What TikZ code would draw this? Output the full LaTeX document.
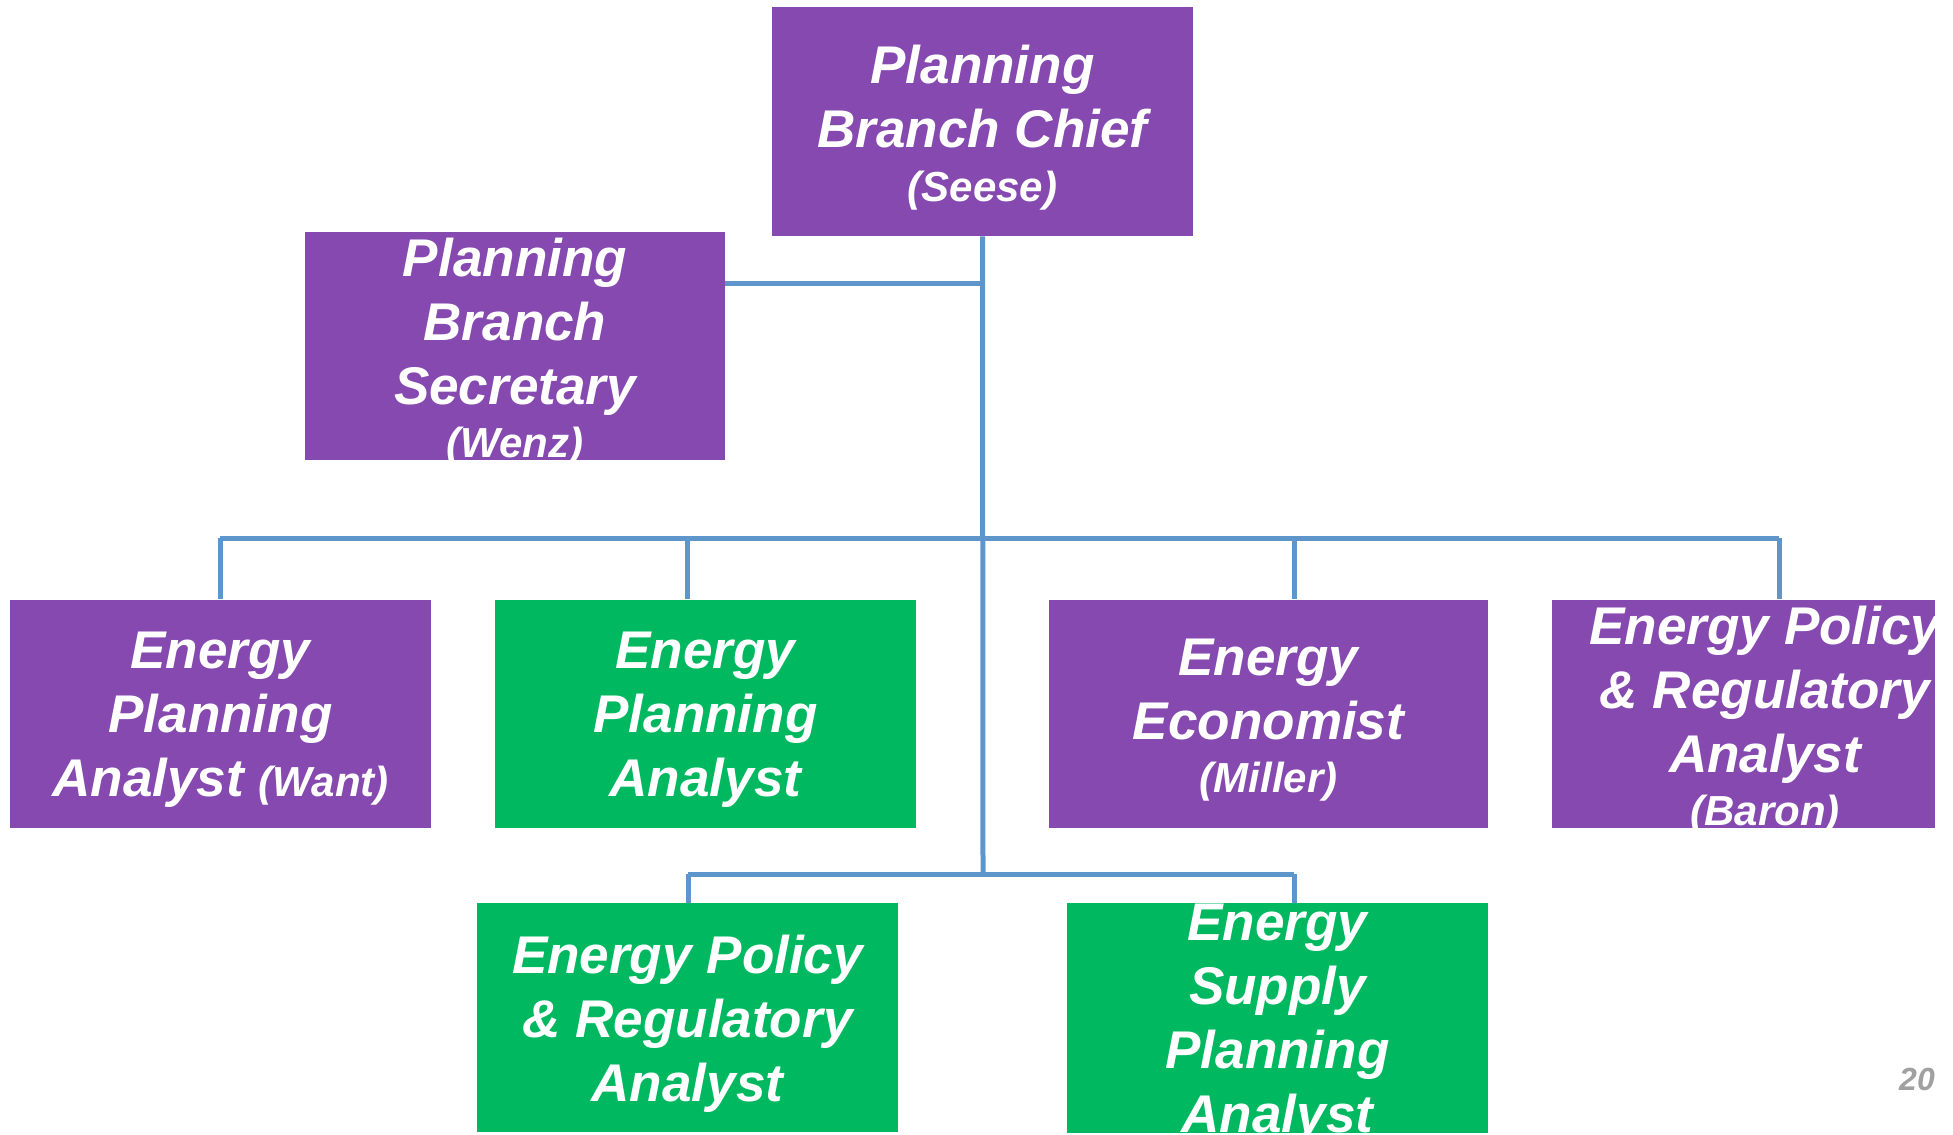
\documentclass[tikz,border=0pt]{standalone}
\usepackage{fontspec}
\setmainfont{Liberation Sans}
\usetikzlibrary{positioning}

\definecolor{orgpurple}{HTML}{8549B0}
\definecolor{orggreen}{HTML}{00B860}
\definecolor{orgline}{HTML}{5E96CC}
\definecolor{pagegray}{HTML}{A0A0A0}

\newcommand{\persname}[1]{{\fontsize{23.9}{30}\selectfont #1}}

\begin{document}
\begin{tikzpicture}[x=0.02cm, y=-0.02cm,
    box/.style = {rectangle, minimum width=8.42cm, minimum height=4.58cm, inner sep=0pt},
    staff/.style = {box, fill=orgpurple},
    vacant/.style = {box, fill=orggreen},
    boxtext/.style = {text=white, align=center, inner sep=0pt, yshift=-3.5pt, font=\bfseries\itshape\fontsize{30.2}{36.4}\selectfont},
    link/.style = {draw=orgline, line width=0.1cm},
    pagenum/.style = {text=pagegray, font=\bfseries\itshape\fontsize{18.2}{22}\selectfont}]
        \useasboundingbox (0,0) rectangle (1953,1135);

        % lines first, boxes on top
        \coordinate (sec-join) at (983,283);
        \coordinate (row-l) at (220,538);
        \coordinate (row-epa) at (687,538);
        \coordinate (row-mid) at (983,538);
        \coordinate (row-eco) at (1294,538);
        \coordinate (row-r) at (1779,538);
        \coordinate (low-l) at (688,874);
        \coordinate (low-mid) at (983,874);
        \coordinate (low-r) at (1294,874);

        \node[staff] at (982.5,121.5) (chief) {};
        \node[staff, minimum width=8.4cm] at (515,346) (secretary) {};
        \node[staff] at (220.5,714) (want) {};
        \node[vacant] at (705.5,714) (epa) {};
        \node[staff, minimum width=8.78cm] at (1268.5,714) (economist) {};
        \node[staff, minimum width=7.66cm] at (1743.5,714) (baron) {};
        \node[vacant] at (687.5,1017.5) (policy) {};
        \node[vacant, minimum height=4.6cm] at (1277.5,1018) (supply) {};

        \draw[link] (chief.south) -- (low-mid);
        \draw[link] (sec-join) -- (secretary.east |- sec-join);
        \draw[link] (row-l) -- (row-r);
        \draw[link] (low-l) -- (low-r);

        \draw[link] (row-l) -- (row-l |- want.north);
        \draw[link] (row-epa) -- (row-epa |- epa.north);
        \draw[link] (row-eco) -- (row-eco |- economist.north);
        \draw[link] (row-r) -- (row-r |- baron.north);
        \draw[link] (low-l) -- (low-l |- policy.north);
        \draw[link] (low-r) -- (low-r |- supply.north);

        \node[boxtext] at (chief.center) (chief-t) {Planning\\Branch Chief\\[-6pt]\persname{(Seese)}};
        \node[boxtext] at (secretary.center) (secretary-t) {Planning\\Branch\\Secretary\\[-6pt]\persname{(Wenz)}};
        \node[boxtext] at (want.center) (want-t) {Energy\\Planning\\Analyst \persname{(Want)}};
        \node[boxtext] at (epa.center) (epa-t) {Energy\\Planning\\Analyst};
        \node[boxtext] at (economist.center) (economist-t) {Energy\\Economist\\[-6pt]\persname{(Miller)}};
        \node[boxtext] at (1765,714) (baron-t) {Energy Policy\\\& Regulatory\\Analyst\\[-6pt]\persname{(Baron)}};
        \node[boxtext] at (policy.center) (policy-t) {Energy Policy\\\& Regulatory\\Analyst};
        \node[boxtext] at (supply.center) (supply-t) {Energy\\Supply\\Planning\\Analyst};

        \node[pagenum] at (1917,1079) (page) {20};
\end{tikzpicture}
\end{document}
